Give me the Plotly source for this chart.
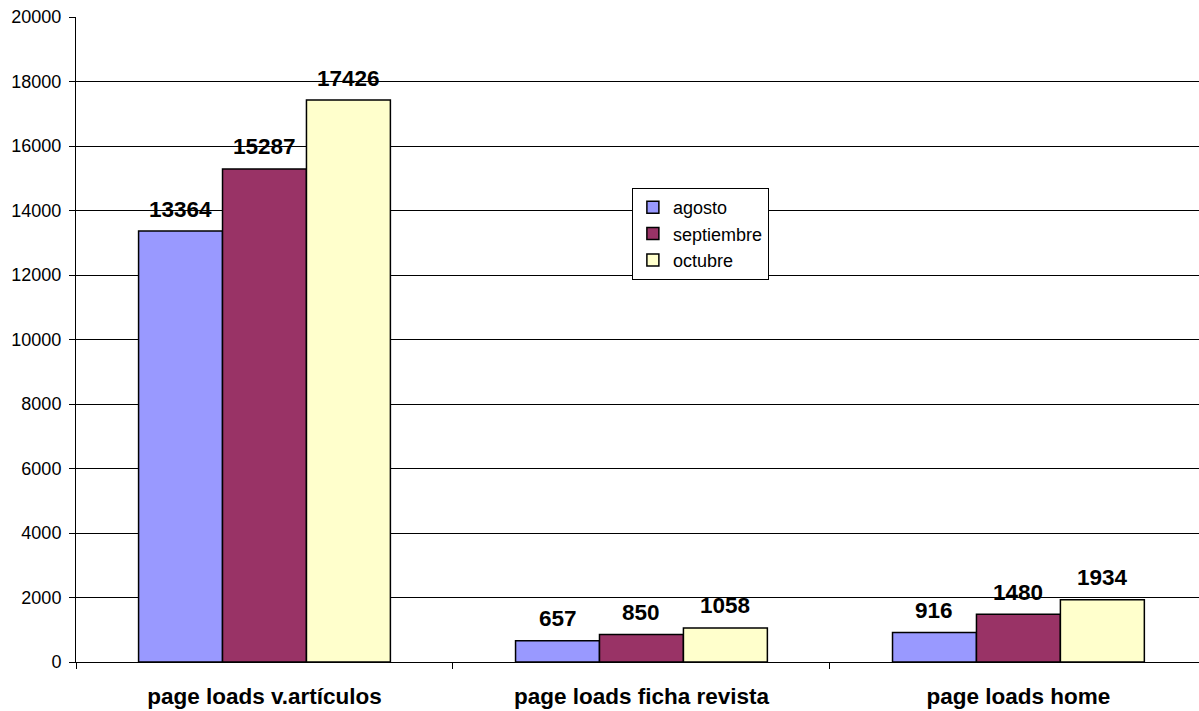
import plotly.graph_objects as go

categories = ["page loads v.artículos", "page loads ficha revista", "page loads home"]
series_names = ["agosto", "septiembre", "octubre"]
agosto = [13364, 657, 916]
septiembre = [15287, 850, 1480]
octubre = [17426, 1058, 1934]
y_ticks = [0, 2000, 4000, 6000, 8000, 10000, 12000, 14000, 16000, 18000, 20000]

colors = ["#9999FF", "#993366", "#FFFFCC"]
series = [agosto, septiembre, octubre]
FONT = "Arial, 'Liberation Sans', sans-serif"
BARGAP = 0.332

fig = go.Figure()
for name, vals, col in zip(series_names, series, colors):
    fig.add_trace(go.Bar(
        name=name, x=categories, y=vals,
        marker=dict(color=col, line=dict(color="#000000", width=1.5)),
    ))

# data labels
n = len(series)
bw = (1 - BARGAP) / n
for i, vals in enumerate(series):
    off = (i - (n - 1) / 2) * bw
    for j, v in enumerate(vals):
        fig.add_annotation(
            x=j + off, y=v, xref="x", yref="y", text=f"<b>{v}</b>",
            showarrow=False, yanchor="middle", yshift=22,
            font=dict(family=FONT, size=22.5, color="#000000"),
        )

fig.update_layout(
    width=1199, height=711,
    margin=dict(l=76, r=0, t=17, b=49),
    paper_bgcolor="#FFFFFF", plot_bgcolor="#FFFFFF",
    barmode="group", bargap=BARGAP, bargroupgap=0,
    font=dict(family=FONT, color="#000000"),
    legend=dict(
        x=0.495, y=0.735, xanchor="left", yanchor="top",
        bgcolor="#FFFFFF", bordercolor="#000000", borderwidth=1,
        font=dict(family=FONT, size=18, color="#000000"),
        itemwidth=30, traceorder="normal",
    ),
    showlegend=True,
)
fig.update_xaxes(
    type="category", range=[-0.5, 2.479],
    showline=True, linecolor="#000000", linewidth=1,
    ticks="outside", tickson="boundaries", ticklen=6, tickcolor="#000000",
    tickfont=dict(family=FONT, size=22.5, color="#000000"),
    tickprefix="<b>", ticksuffix="</b>",
    ticklabelstandoff=14,
    showgrid=False,
)
fig.update_yaxes(
    range=[0, 20000], tickvals=y_ticks, ticktext=[str(t) for t in y_ticks],
    showline=True, linecolor="#000000", linewidth=1,
    ticks="outside", ticklen=6, tickcolor="#000000",
    tickfont=dict(family=FONT, size=18, color="#000000"),
    ticklabelstandoff=4,
    showgrid=True, gridcolor="#000000", gridwidth=1,
    zeroline=False,
)

fig.write_html(
    "out.html",
    config={"displayModeBar": False},
    post_script="document.body.style.margin='0';document.body.style.overflow='hidden';",
)
